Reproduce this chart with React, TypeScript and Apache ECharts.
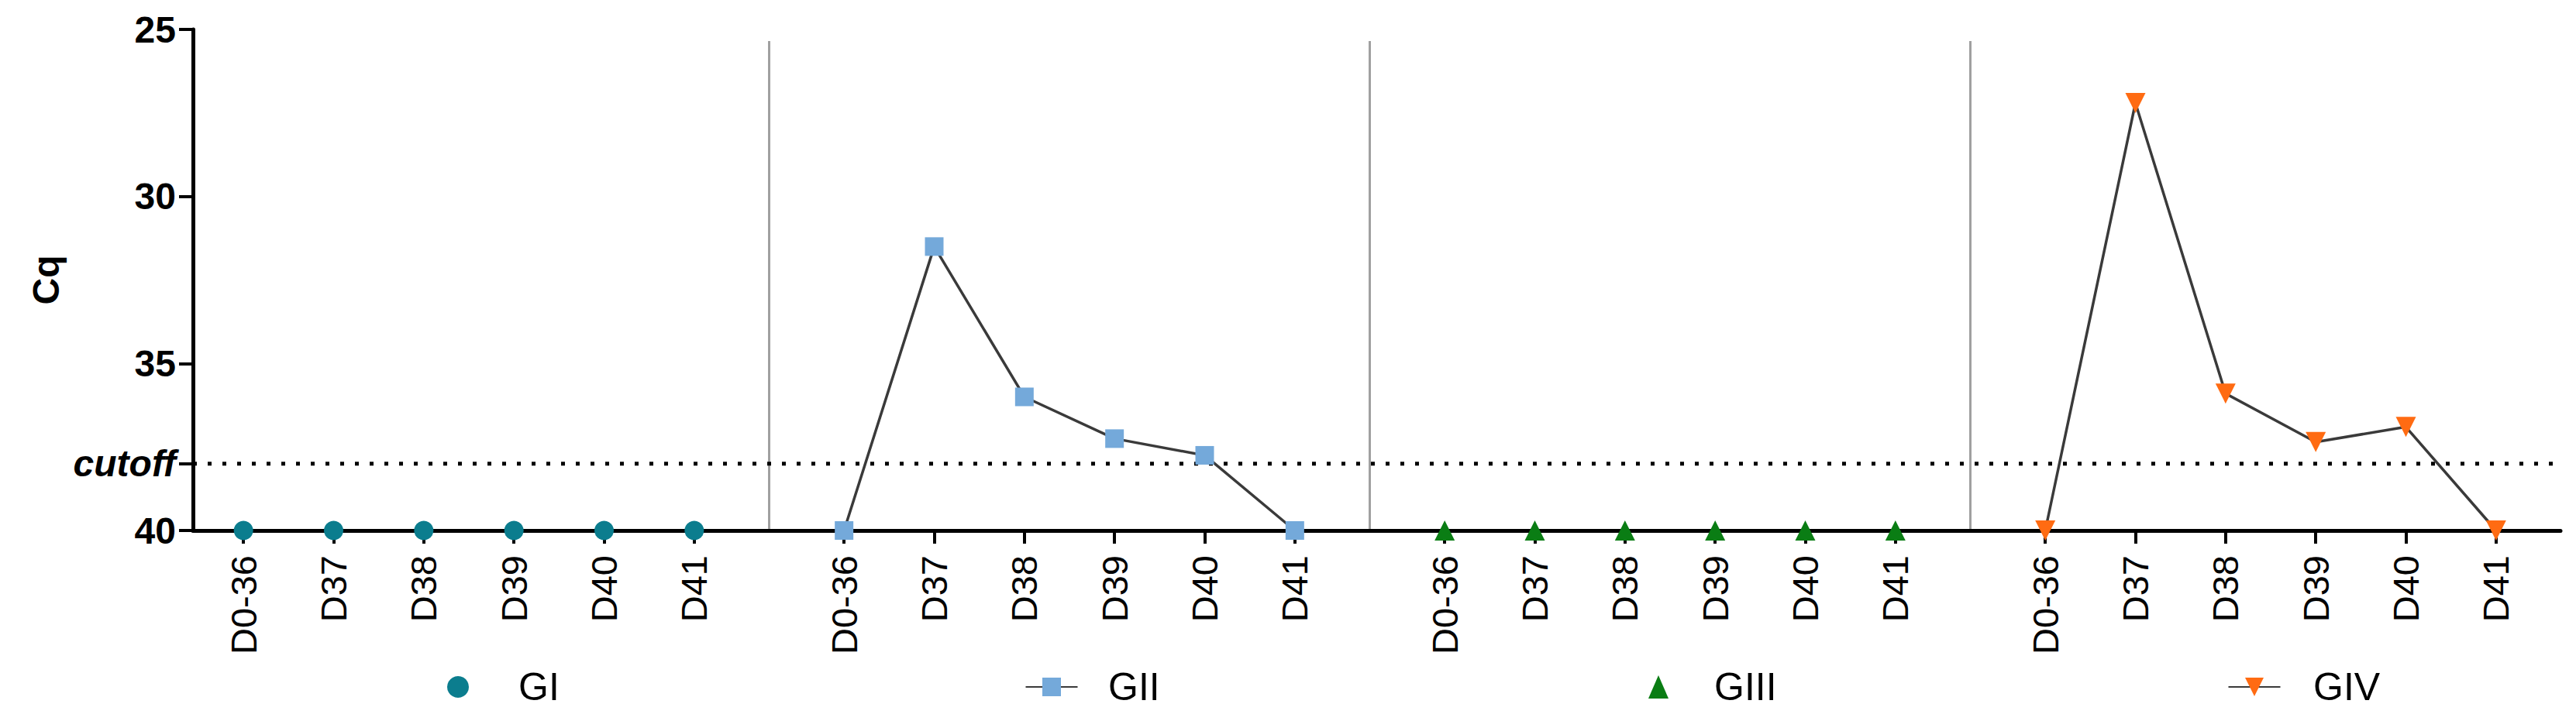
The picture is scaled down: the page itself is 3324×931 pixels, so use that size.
import React, { useEffect, useRef } from "react";
import * as echarts from "echarts";

const categories = ["D0-36", "D37", "D38", "D39", "D40", "D41"];
const groupNames = ["GI", "GII", "GIII", "GIV"];
const giValues = [40, 40, 40, 40, 40, 40];
const giiValues = [40, 31.5, 36.0, 37.25, 37.75, 40];
const giiiValues = [40, 40, 40, 40, 40, 40];
const givValues = [40, 27.2, 35.9, 37.35, 36.9, 40];
const yTickValues = [25, 30, 35, 38, 40];
const cutoffValue = 38;
const yMin = 25;
const yMax = 40;

const FONT = "'Liberation Sans', Arial, Helvetica, sans-serif";
const W = 3324;
const H = 931;
const plotLeft = 249;
const plotRight = 3304;
const plotTop = 38;
const plotBottom = 685;
const groupLeft0 = 256;
const groupStep = 775;
const groupWidth = 698;
const sepTop = 53;
const legendIconCenters = [586, 1351, 2135, 2903];
const legendTextLefts = [664, 1424, 2207, 2979];
const legendTop = 857;

export default function App() {
  const ref = useRef<HTMLDivElement>(null);
  useEffect(() => {
    if (!ref.current) return;
    const chart = echarts.init(ref.current, null, { renderer: "svg" });
    const groupData = [giValues, giiValues, giiiValues, givValues];
    const groupStyle = [
      { type: "scatter", symbol: "circle", size: 25, color: "#0b7d8e", rotate: 0, iconW: 28 },
      { type: "line", symbol: "rect", size: 24, color: "#74a9da", rotate: 0, iconW: 67 },
      { type: "scatter", symbol: "triangle", size: 26, color: "#0a7d14", rotate: 0, iconW: 26 },
      { type: "line", symbol: "triangle", size: 26, color: "#ff6b12", rotate: 180, iconW: 67 },
    ];
    const grids: any[] = [
      { left: plotLeft, top: plotTop, width: plotRight - plotLeft, height: plotBottom - plotTop },
    ];
    const xAxes: any[] = [
      {
        gridIndex: 0, type: "value", min: 0, max: 1,
        axisLine: { show: true, onZero: false, lineStyle: { color: "#000", width: 5 } },
        axisTick: { show: false }, axisLabel: { show: false }, splitLine: { show: false },
      },
    ];
    const yAxes: any[] = [
      {
        gridIndex: 0, type: "value", inverse: true, min: yMin, max: yMax, interval: 5,
        axisLine: { show: true, onZero: false, lineStyle: { color: "#000", width: 5 } },
        axisTick: { show: true, length: 18, lineStyle: { color: "#000", width: 4 }, customValues: yTickValues },
        axisLabel: {
          customValues: yTickValues, margin: 22, fontSize: 48, fontWeight: "bold", color: "#000", fontFamily: FONT,
          formatter: (v: number) => (v === cutoffValue ? "{c|cutoff}" : String(v)),
          rich: { c: { fontStyle: "italic", fontWeight: "bold", fontSize: 48, color: "#000", fontFamily: FONT } },
        },
        splitLine: { show: false },
        name: "Cq", nameLocation: "middle", nameGap: 160,
        nameTextStyle: { fontSize: 48, fontWeight: "bold", color: "#000", fontFamily: FONT },
      },
    ];
    const series: any[] = [
      {
        type: "line", xAxisIndex: 0, yAxisIndex: 0, data: [[0, cutoffValue], [1, cutoffValue]],
        symbol: "none", silent: true, z: 1,
        lineStyle: { type: [5, 14], width: 5, color: "#000" },
      },
    ];
    const legends: any[] = [];
    const graphics: any[] = [];
    groupNames.forEach((name, i) => {
      const left = groupLeft0 + i * groupStep;
      grids.push({ left, top: plotTop, width: groupWidth, height: plotBottom - plotTop });
      xAxes.push({
        gridIndex: i + 1, type: "category", data: categories, boundaryGap: true,
        axisLine: { show: false },
        axisTick: { show: true, alignWithLabel: true, interval: 0, length: 17, lineStyle: { color: "#000", width: 4 } },
        axisLabel: { interval: 0, rotate: 90, margin: 32, fontSize: 47, color: "#000", fontFamily: FONT },
        splitLine: { show: false },
      });
      yAxes.push({ gridIndex: i + 1, type: "value", inverse: true, min: yMin, max: yMax, show: false });
      const st = groupStyle[i];
      series.push({
        name, type: st.type, xAxisIndex: i + 1, yAxisIndex: i + 1, data: groupData[i],
        symbol: st.symbol, symbolSize: st.size, symbolRotate: st.rotate, clip: false, z: 5,
        itemStyle: { color: st.color, opacity: 1 },
        lineStyle: { color: "#3a3a3a", width: 3.5 },
        showAllSymbol: true,
      });
      const iconLeft = legendIconCenters[i] - st.iconW / 2;
      const pad = legendTextLefts[i] - (iconLeft + st.iconW + 5);
      legends.push({
        data: [name], left: iconLeft, top: legendTop, orient: "horizontal",
        itemWidth: st.iconW, itemHeight: 30, selectedMode: false,
        textStyle: { fontSize: 50, color: "#000", fontFamily: FONT, padding: [0, 0, 0, pad] },
      });
      if (i > 0) {
        const x = left - (groupStep - groupWidth) / 2;
        graphics.push({
          type: "line", z: 0, silent: true,
          shape: { x1: x, y1: sepTop, x2: x, y2: plotBottom },
          style: { stroke: "#a0a0a0", lineWidth: 3 },
        });
      }
    });
    chart.setOption({
      animation: false,
      backgroundColor: "#fff",
      textStyle: { fontFamily: FONT },
      grid: grids,
      xAxis: xAxes,
      yAxis: yAxes,
      legend: legends,
      graphic: graphics,
      series,
    });
    return () => chart.dispose();
  }, []);
  return (
    <div
      ref={ref}
      style={{ position: "fixed", left: 0, top: 0, width: W, height: H, background: "#fff" }}
    />
  );
}
